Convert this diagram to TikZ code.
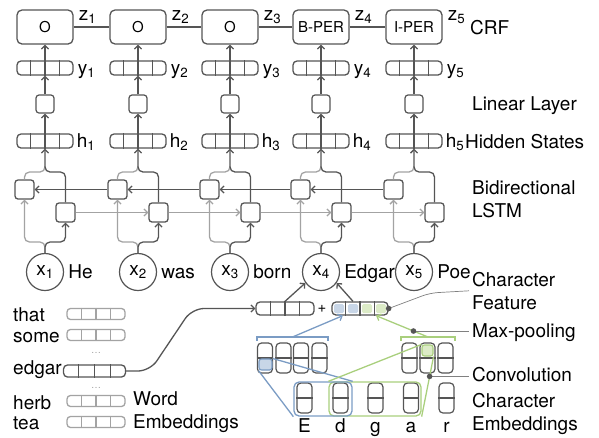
\documentclass[tikz,border=0pt]{standalone}
\usepackage{fontspec}
\setmainfont{TeX Gyre Heros}
\usetikzlibrary{calc,arrows.meta}

\definecolor{lineDark}{HTML}{555555}
\definecolor{lineLight}{HTML}{A3A3A3}
\definecolor{blueLine}{HTML}{7B9CC4}
\definecolor{blueFill}{HTML}{C8D6E7}
\definecolor{greenLine}{HTML}{A9CF7D}
\definecolor{greenFill}{HTML}{DCEBC7}

% dividers of a 4-cell row vector and of a 2-cell column vector
\newcommand{\rowcells}[2]{%
	\foreach \m in {1,2,3}
		\draw[#2, line width=1.1pt] ($(#1.north west)!\m/4!(#1.north east)$) -- ($(#1.south west)!\m/4!(#1.south east)$);%
}
\newcommand{\colcells}[2]{\draw[#2, line width=1.1pt] (#1.west) -- (#1.east);}

\begin{document}
\begin{tikzpicture}[x=1pt, y=-1pt, font=\fontsize{19}{22.5}\selectfont,
	>={Straight Barb[length=3.5pt,width=7pt]},
	every node/.style={inner sep=0pt},
	tagbox/.style={draw=lineDark, line width=1.3pt, rounded corners=5pt, minimum width=56pt, minimum height=34pt, font=\fontsize{15}{15}\selectfont},
	vecrow/.style={draw=lineDark, line width=1.3pt, rounded corners=4pt, minimum width=56pt, minimum height=14pt},
	embrow/.style={vecrow, draw=lineLight, minimum width=58pt, minimum height=11pt, rounded corners=3.5pt},
	linbox/.style={draw=lineDark, line width=1.2pt, rounded corners=3pt, minimum size=18pt},
	lstmbox/.style={draw=lineDark, line width=1.3pt, rounded corners=3pt, minimum size=19pt},
	wordcirc/.style={circle, draw=lineDark, line width=1.2pt, minimum size=37pt},
	mapcol/.style={draw=lineDark, line width=1.2pt, rounded corners=4pt, minimum width=15pt, minimum height=30pt},
	window/.style={line width=1.3pt, rounded corners=5pt, minimum height=34pt},
	flow/.style={->, draw=lineDark, line width=1.3pt},
	flowlight/.style={->, draw=lineLight, line width=1.3pt},
	pointer/.style={draw=gray, line width=0.7pt},
	sidelabel/.style={anchor=base west, align=left, inner xsep=3pt}]
	
	\useasboundingbox (0,0) rectangle (599,437);
	
	% one column per word: CRF tag, linear layer, hidden state, LSTM cells
	\foreach \i/\cx/\tagtxt/\wordtxt in {1/45/O/He, 2/138/O/was, 3/230/O/born, 4/321/B-PER/Edgar, 5/414/I-PER/Poe} {
		\node[tagbox] (crf\i) at (\cx,27) {\tagtxt};
		\node[anchor=base west] (z\i) at ($(crf\i.east)+(5,-7)$) {z\textsubscript{\i}};
		\node[vecrow] (yv\i) at (\cx,68) {};
		\rowcells{yv\i}{lineDark}
		\node[anchor=base west] (ylab\i) at ($(yv\i.east)+(4,6)$) {y\textsubscript{\i}};
		\node[linbox] (lin\i) at (\cx,104) {};
		\node[vecrow] (hv\i) at (\cx,141) {};
		\rowcells{hv\i}{lineDark}
		\node[anchor=base west] (hlab\i) at ($(hv\i.east)+(3,6)$) {h\textsubscript{\i}};
		\node[lstmbox] (bw\i) at ({\cx-20.5},189.5) {};
		\node[lstmbox] (fw\i) at ({\cx+20.5},212.5) {};
		\node[wordcirc] (x\i) at (\cx,272) {x\textsubscript{\i}};
		\node[anchor=base west] (w\i) at ($(x\i.east)+(4,6)$) {\wordtxt};
		
		% up through the column
		\draw[flow] (yv\i.north) -- (crf\i.south);
		\draw[flow] (lin\i.north) -- (yv\i.south);
		\draw[flow] (hv\i.north) -- (lin\i.south);
		
		% split the input, merge the two directions
		\coordinate (sp\i) at (\cx,242);
		\coordinate (mg\i) at (\cx,172);
		\draw[flowlight, rounded corners=5pt] (x\i.north) -- (sp\i) -| (bw\i.south);
		\draw[flow, rounded corners=5pt] (x\i.north) -- (sp\i) -| (fw\i.south);
		\draw[lineLight, line width=1.3pt, rounded corners=5pt] (bw\i.north) |- (mg\i) -- ++(0,-6);
		\draw[flow, rounded corners=5pt] (fw\i.north) |- (mg\i) -- (hv\i.south);
	}
	
	% chain links
	\foreach \i/\j in {1/2, 2/3, 3/4, 4/5} {
		\draw[lineDark, line width=1.3pt] (crf\i.east) -- (crf\j.west);
		\draw[flowlight] (fw\i.east) -- (fw\j.west);
		\draw[flow] (bw\j.west) -- (bw\i.east);
	}
	
	% layer names (base of a two-line name is its last line)
	\node[sidelabel] (crflab) at (467,34) {CRF};
	\node[sidelabel] (linlab) at (469,110.5) {Linear Layer};
	\node[sidelabel] (hidlab) at (462,148) {Hidden States};
	\node[sidelabel] (lstmlab) at (469,217) {Bidirectional\\LSTM};
	
	% word embedding table
	\foreach \wtxt/\wy/\by in {that/314/321, some/335/342, herb/401/409, tea/422/429} {
		\node[anchor=base west] (lab-\wtxt) at (13,\by) {\wtxt};
		\node[embrow] (emb-\wtxt) at (96,\wy) {};
		\rowcells{emb-\wtxt}{lineLight}
	}
	\node[anchor=base west] (lab-edgar) at (13,374) {edgar};
	\node[vecrow, minimum width=62pt, minimum height=12pt] (emb-edgar) at (94.5,371) {};
	\rowcells{emb-edgar}{lineDark}
	\node[text=lineLight, font=\fontsize{10}{10}\selectfont] (dots1) at (96,353) {\dots};
	\node[text=lineLight, font=\fontsize{10}{10}\selectfont] (dots2) at (96,388) {\dots};
	\node[sidelabel] (welab) at (130,428) {Word\\Embeddings};
	
	% word vector + character feature
	\node[vecrow, minimum width=58pt, minimum height=13pt] (wv) at (285,308.5) {};
	\rowcells{wv}{lineDark}
	\node[font=\fontsize{15}{15}\selectfont] (plus) at (322,309) {+};
	\node[vecrow, minimum width=56pt, minimum height=13pt] (cf) at (360,308.5) {};
	\foreach \m/\fc in {0/blueFill, 1/blueFill, 2/greenFill, 3/greenFill}
		\fill[\fc, rounded corners=1.5pt] ({334+14*\m},304) rectangle ({344+14*\m},313);
	\rowcells{cf}{lineDark}
	\draw[flow, rounded corners=12pt] (emb-edgar.east) -- (150,371) -- (192,308.5) -- (wv.west);
	\draw[flow] (wv.north) -- (x4.215);
	\draw[flow] ($(cf.north)+(-7,0)$) -- (x4.325);
	
	% convolution maps
	\foreach \k/\mx in {1/265, 2/283.5, 3/301, 4/319.5} {
		\node[mapcol] (cl\k) at (\mx,358) {};
		\colcells{cl\k}{lineDark}
	}
	\foreach \k/\mx in {1/409.5, 2/427.5, 3/445.5} {
		\node[mapcol] (cr\k) at (\mx,358) {};
		\colcells{cr\k}{lineDark}
	}
	
	% character embeddings
	\foreach \k/\ch/\mx in {1/E/304.5, 2/d/340.5, 3/g/375.5, 4/a/411, 5/r/446.5} {
		\node[mapcol] (ce\k) at (\mx,398) {};
		\colcells{ce\k}{lineDark}
		\node[anchor=base] (ch\k) at (\mx,432) {\ch};
	}
	\node[sidelabel] (celab) at (469,430) {Character\\Embeddings};
	
	% filter windows
	\node[window, draw=greenLine, minimum width=92pt] (gwin) at (375,399) {};
	\node[window, draw=blueLine, minimum width=58pt] (bwin) at (323,399) {};
	\node[draw=blueLine, fill=blueFill, line width=1.1pt, rounded corners=2.5pt, minimum width=13pt, minimum height=11pt] (bcell) at (265.5,364.5) {};
	\node[draw=greenLine, fill=greenFill, line width=1.1pt, rounded corners=2.5pt, minimum width=11pt, minimum height=11pt] (gcell) at (427.5,350.5) {};
	\draw[blueLine, line width=1.3pt] (bcell.north east) -- (bwin.north east);
	\draw[blueLine, line width=1.3pt] (bcell.south west) -- (bwin.south west);
	\draw[greenLine, line width=1.3pt] (gcell.north west) -- (gwin.north west);
	\draw[greenLine, line width=1.3pt] (gcell.south east) -- (gwin.south east);
	
	% max-pooling brackets
	\draw[blueLine, line width=1.2pt] (257,341) -- (257,337) -- (328,337) -- (328,341);
	\draw[greenLine, line width=1.2pt] (401,341) -- (401,337) -- (455,337) -- (455,341);
	\coordinate (bbr) at (292.5,337);
	\coordinate (gbr) at (428,337);
	\draw[->, blueLine, line width=1.3pt] (bbr) -- ($(cf.south west)!0.2!(cf.south east)$);
	\draw[->, greenLine, line width=1.3pt] (gbr) -- ($(cf.south west)!0.78!(cf.south east)$);
	
	% pointers to the names
	\node[sidelabel] (cflab) at (469,309) {Character\\Feature};
	\node[sidelabel] (mplab) at (469,337) {Max-pooling};
	\node[sidelabel] (cvlab) at (469,381) {Convolution};
	\coordinate (cfdot) at (cf.east);
	\coordinate (mpdot) at ($(gbr)!0.28!($(cf.south west)!0.78!(cf.south east)$)$);
	\coordinate (cvdot) at ($(gcell.south east)!0.33!(gwin.south east)$);
	\draw[pointer, rounded corners=8pt] (cfdot) -- (430,293) -- (cflab.west);
	\draw[pointer] (mpdot) -- (mpdot -| mplab.west);
	\draw[pointer] (cvdot) -- (cvdot -| cvlab.west);
	\foreach \d in {cfdot, mpdot, cvdot}
		\fill[lineDark] (\d) circle (2.8pt);
\end{tikzpicture}
\end{document}
